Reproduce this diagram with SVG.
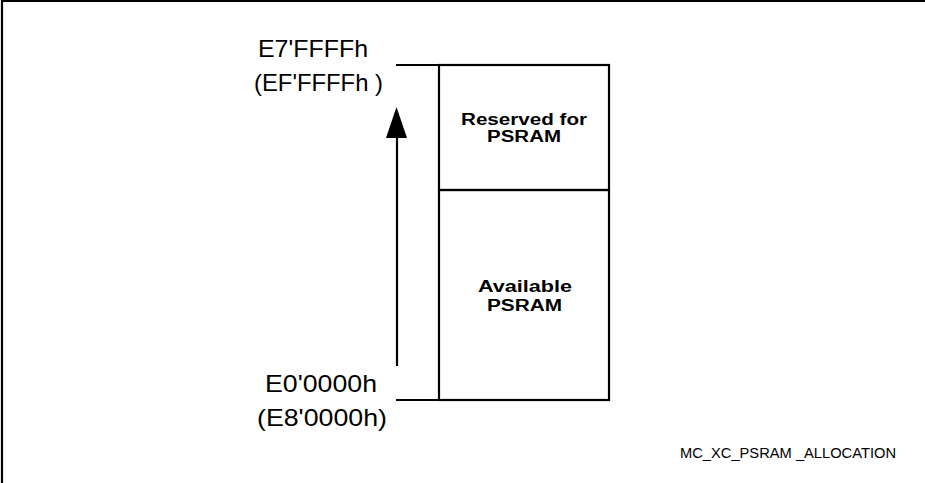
<svg xmlns="http://www.w3.org/2000/svg" width="925" height="483" viewBox="0 0 925 483">
  <style>
    .ln{stroke:#000;stroke-width:2.2;fill:none}
    .addr{font-family:"Liberation Sans",Arial,sans-serif;font-size:24px;fill:#000}
    .lbl{font-family:"Liberation Sans",Arial,sans-serif;font-size:16px;font-weight:bold;fill:#000;text-anchor:middle}
    .cap{font-family:"Liberation Sans",Arial,sans-serif;font-size:14px;fill:#000}
  </style>
  <rect width="925" height="483" fill="#fff"/>
  <g id="frame">
    <line class="ln" x1="2" y1="1" x2="925" y2="1"/>
    <line class="ln" x1="2" y1="0" x2="2" y2="483"/>
  </g>
  <g id="connectors">
    <line class="ln" x1="396" y1="65" x2="609" y2="65"/>
    <line class="ln" x1="396" y1="400" x2="609" y2="400"/>
    <line class="ln" x1="397" y1="366" x2="397" y2="137"/>
    <path d="M386,138 L396.5,107 L407,138 Z" fill="#000"/>
  </g>
  <g id="reserved">
    <rect class="ln" x="439" y="65" width="170" height="125"/>
    <text class="lbl" x="524" y="125" textLength="126" lengthAdjust="spacingAndGlyphs">Reserved for</text>
    <text class="lbl" x="524" y="142" textLength="74" lengthAdjust="spacingAndGlyphs">PSRAM</text>
  </g>
  <g id="available">
    <rect class="ln" x="439" y="190" width="170" height="210"/>
    <text class="lbl" x="525" y="292" textLength="94" lengthAdjust="spacingAndGlyphs">Available</text>
    <text class="lbl" x="524.5" y="311" textLength="75" lengthAdjust="spacingAndGlyphs">PSRAM</text>
  </g>
  <g id="labels">
    <text class="addr" x="258" y="57" textLength="110" lengthAdjust="spacingAndGlyphs">E7'FFFFh</text>
    <text class="addr" x="254" y="91" textLength="129" lengthAdjust="spacingAndGlyphs">(EF'FFFFh )</text>
    <text class="addr" x="265" y="392" textLength="112" lengthAdjust="spacingAndGlyphs">E0'0000h</text>
    <text class="addr" x="257" y="426" textLength="130" lengthAdjust="spacingAndGlyphs">(E8'0000h)</text>
    <text class="cap" x="680" y="458" textLength="216" lengthAdjust="spacingAndGlyphs">MC_XC_PSRAM _ALLOCATION</text>
  </g>
</svg>
